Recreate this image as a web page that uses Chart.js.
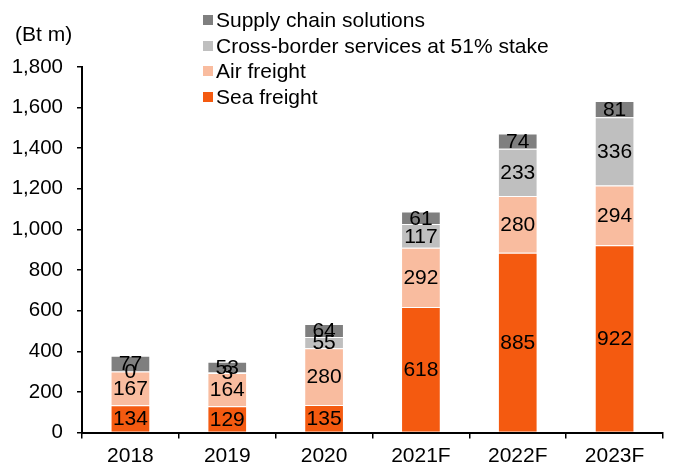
<!DOCTYPE html>
<html>
<head>
<meta charset="utf-8">
<script src="https://cdn.jsdelivr.net/npm/chart.js@4.4.1/dist/chart.umd.min.js"></script>
<style>
  html, body { margin: 0; padding: 0; background: #fff; }
  #wrap { position: relative; width: 675px; height: 468px; font-family: 'Liberation Sans', Arial, sans-serif; }
  #c { position: absolute; left: 0; top: 0; }
  #ytitle { position: absolute; left: 15px; top: 22px; font-size: 21px; line-height: 24px; color: #000; }
  #legend { position: absolute; left: 203px; top: 7px; font-size: 21px; color: #000; }
  .li { height: 25.7px; line-height: 25.7px; display: flex; align-items: center; white-space: nowrap; }
  .sw { width: 10px; height: 10px; margin-right: 3px; flex: none; }
</style>
</head>
<body>
<div id="wrap">
  <canvas id="c" width="675" height="468"></canvas>
  <div id="ytitle">(Bt m)</div>
  <div id="legend"></div>
</div>
<script>
const categories = ['2018', '2019', '2020', '2021F', '2022F', '2023F'];
const seaFreight = [134, 129, 135, 618, 885, 922];
const airFreight = [167, 164, 280, 292, 280, 294];
const crossBorder = [0, 3, 55, 117, 233, 336];
const supplyChain = [77, 53, 64, 61, 74, 81];
const yTicks = [0, 200, 400, 600, 800, 1000, 1200, 1400, 1600, 1800];

const seriesNames = ['Sea freight', 'Air freight', 'Cross-border services at 51% stake', 'Supply chain solutions'];
const seriesColors = ['#F45A10', '#F9BC9F', '#BFBFBF', '#7F7F7F'];
const seriesValues = [seaFreight, airFreight, crossBorder, supplyChain];

const FONT = "'Liberation Sans', Arial, sans-serif";

// HTML legend, reverse order
const legendEl = document.getElementById('legend');
for (let i = seriesNames.length - 1; i >= 0; i--) {
  const d = document.createElement('div');
  d.className = 'li';
  const s = document.createElement('span');
  s.className = 'sw';
  s.style.background = seriesColors[i];
  const t = document.createElement('span');
  t.textContent = seriesNames[i];
  d.appendChild(s); d.appendChild(t);
  legendEl.appendChild(d);
}

const labelPlugin = {
  id: 'segLabels',
  afterDatasetsDraw(chart) {
    const ctx = chart.ctx;
    ctx.save();
    ctx.font = '21px ' + FONT;
    ctx.fillStyle = '#000';
    ctx.textAlign = 'center';
    ctx.textBaseline = 'middle';
    chart.data.datasets.forEach((ds, di) => {
      const meta = chart.getDatasetMeta(di);
      meta.data.forEach((el, i) => {
        const v = ds.data[i];
        const y = (el.y + el.base) / 2;
        ctx.fillText(String(v), el.x, y + 1);
      });
    });
    ctx.restore();
  }
};

new Chart(document.getElementById('c'), {
  type: 'bar',
  data: {
    labels: categories,
    datasets: seriesValues.map((vals, i) => ({
      label: seriesNames[i],
      data: vals,
      backgroundColor: seriesColors[i],
      borderColor: 'rgba(255,255,255,0.45)',
      borderWidth: 1,
      categoryPercentage: 1,
      barPercentage: 0.41
    }))
  },
  options: {
    responsive: false,
    animation: false,
    devicePixelRatio: 1,
    layout: { padding: { top: 67, right: 12, bottom: 0, left: 0 } },
    plugins: { legend: { display: false }, tooltip: { enabled: false } },
    scales: {
      x: {
        stacked: true,
        grid: { drawOnChartArea: false, offset: true, tickLength: 6, color: '#000', lineWidth: 1.5 },
        border: { display: true, color: '#000', width: 2 },
        ticks: { color: '#000', font: { family: FONT, size: 21 }, padding: 5, maxRotation: 0 },
        afterFit(scale) { scale.height = 35.5; }
      },
      y: {
        stacked: true,
        min: 0,
        max: 1800,
        afterBuildTicks(scale) { scale.ticks = yTicks.map(v => ({ value: v })); },
        grid: { drawOnChartArea: false, tickLength: 5, color: '#000', lineWidth: 1.5 },
        border: { display: true, color: '#000', width: 2 },
        ticks: {
          color: '#000',
          font: { family: FONT, size: 20.5 },
          padding: 14,
          callback: v => v.toLocaleString('en-US')
        },
        afterFit(scale) { scale.width = 82; }
      }
    }
  },
  plugins: [labelPlugin]
});
</script>
</body>
</html>
